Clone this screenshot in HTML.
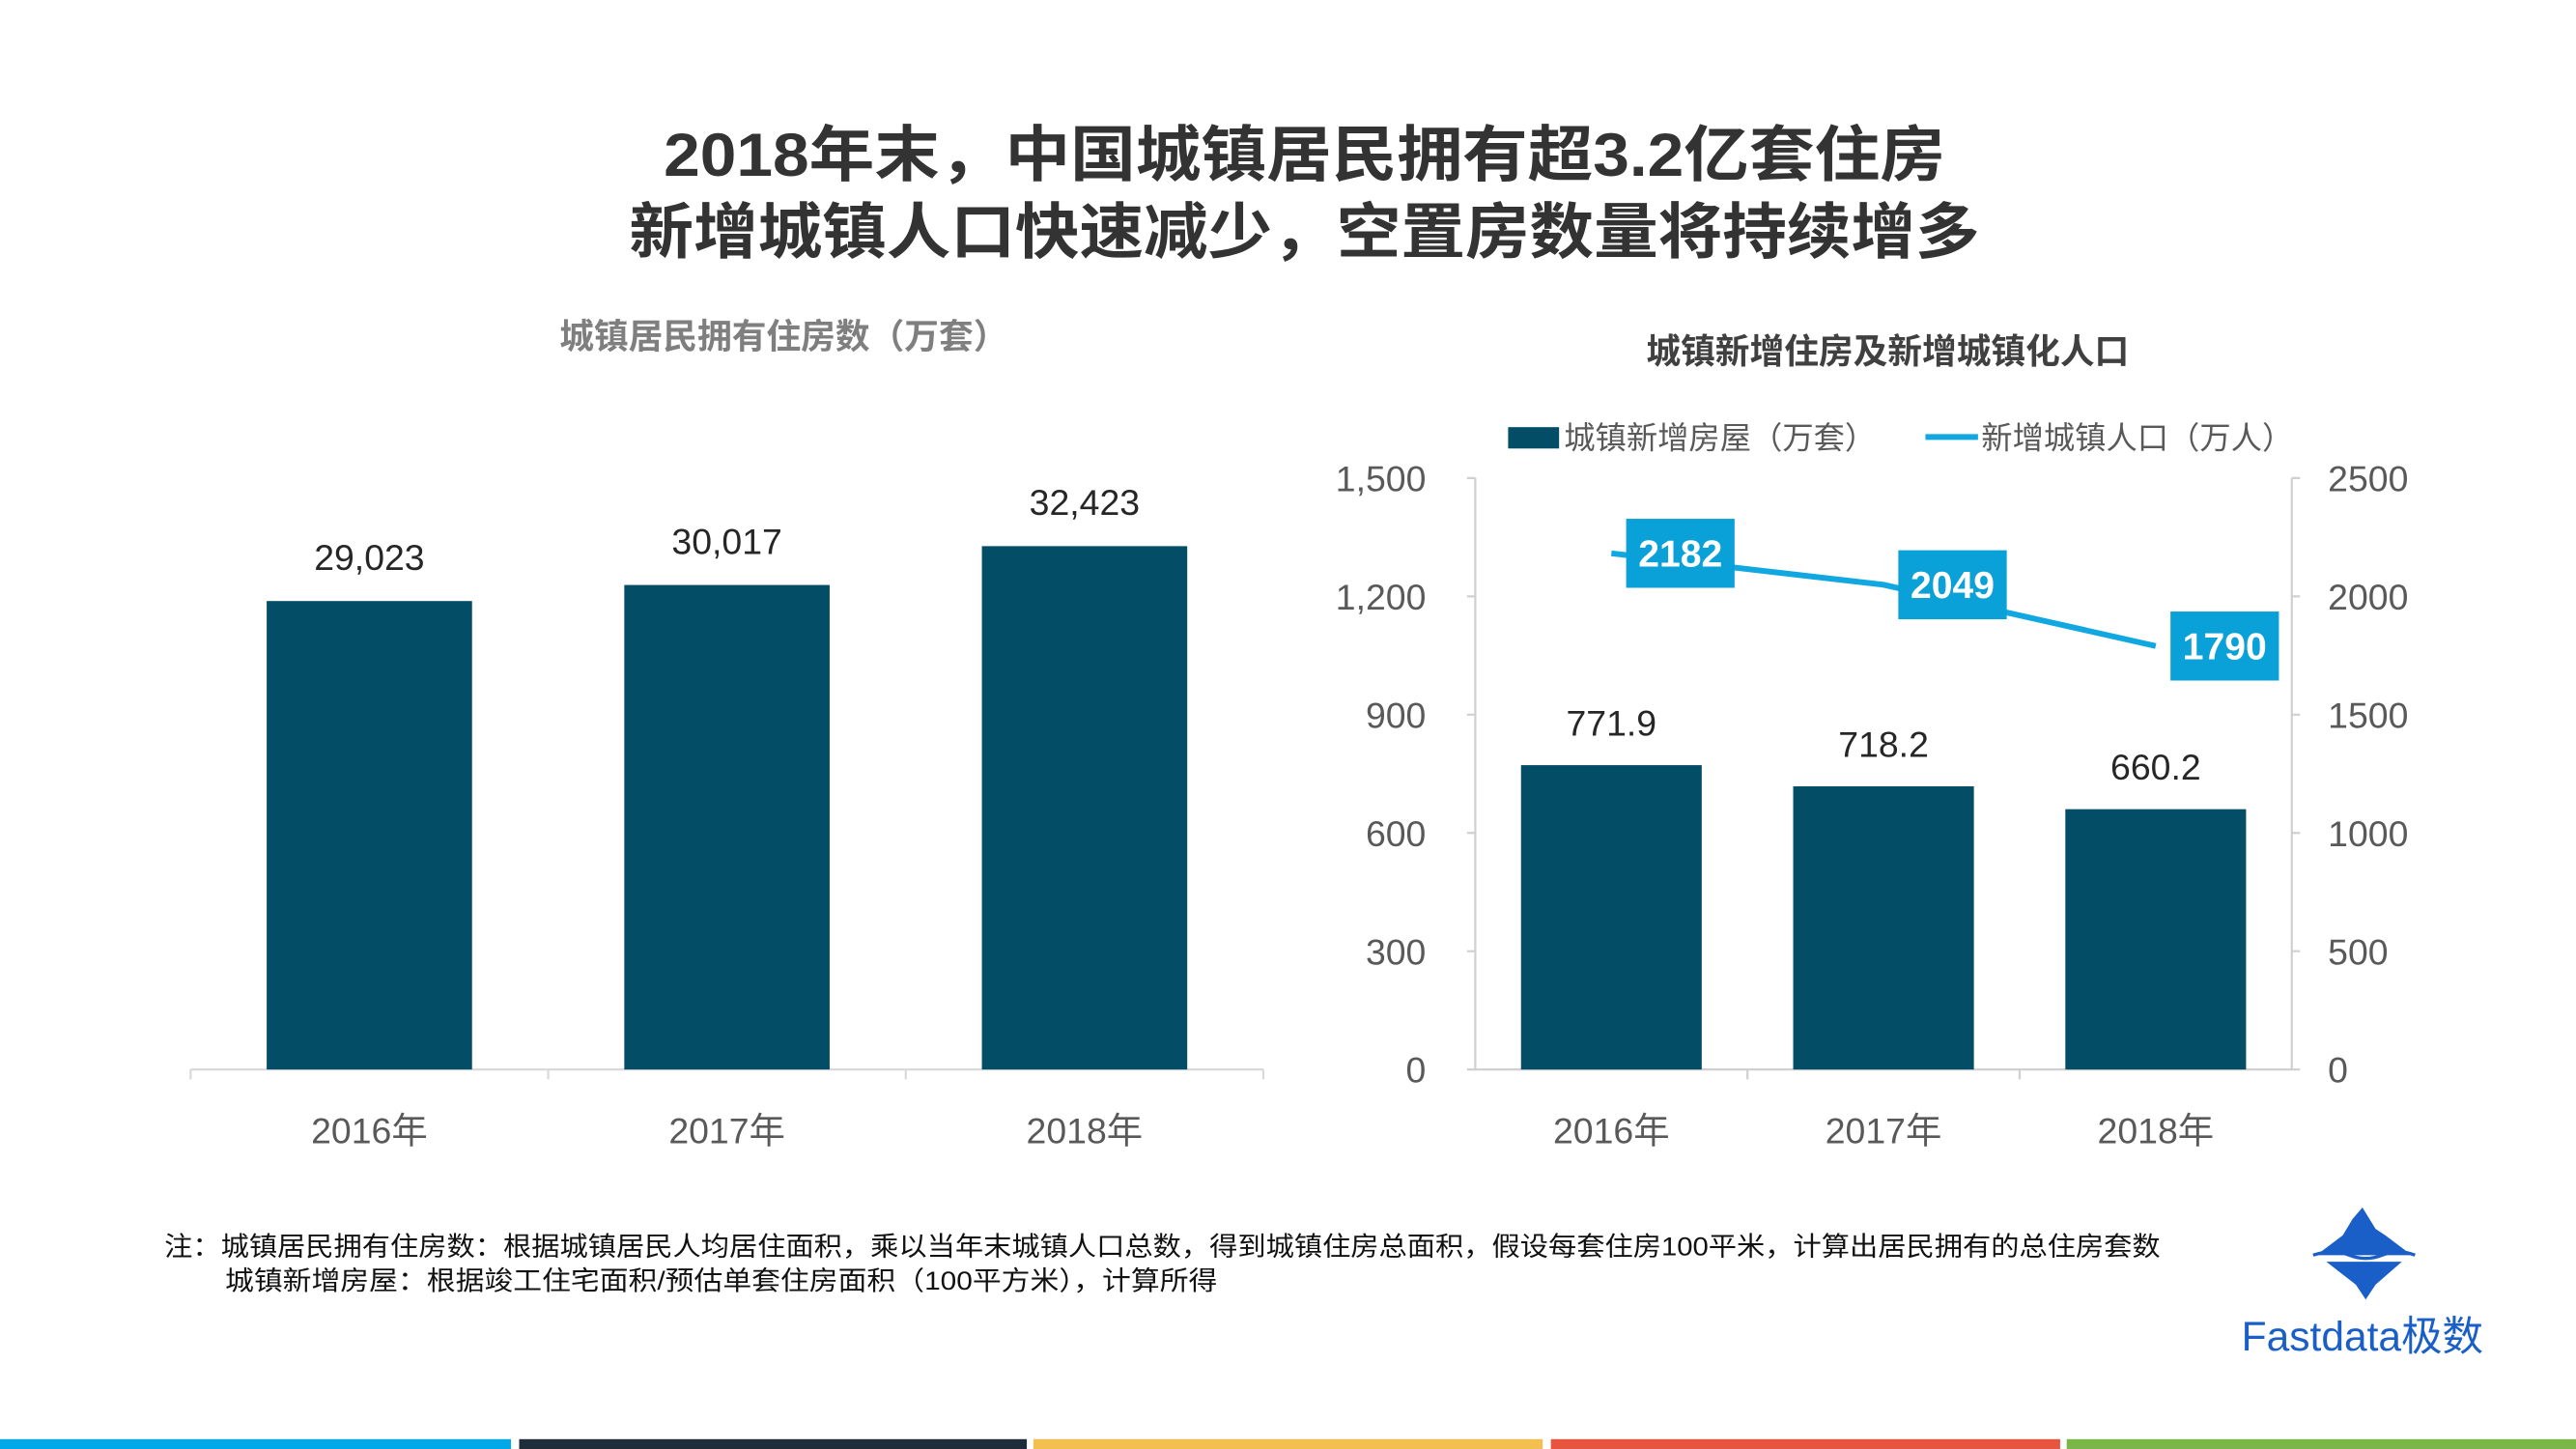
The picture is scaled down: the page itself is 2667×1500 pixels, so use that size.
<!DOCTYPE html>
<html><head><meta charset="utf-8"><style>
html,body{margin:0;padding:0;background:#fff;}
svg{display:block;font-family:"Liberation Sans","Noto Sans CJK SC",sans-serif;}
</style></head><body>
<svg id="root" width="2667" height="1500" viewBox="0 0 1568 882" preserveAspectRatio="none" xmlns="http://www.w3.org/2000/svg">
<g font-weight="bold" font-size="37" fill="#333" text-anchor="middle">
<text x="794" y="107" textLength="780" lengthAdjust="spacingAndGlyphs">2018年末，中国城镇居民拥有超3.2亿套住房</text>
<text x="794" y="154" textLength="822" lengthAdjust="spacingAndGlyphs">新增城镇人口快速减少，空置房数量将持续增多</text>
</g>
<text x="477" y="212" font-size="21" font-weight="bold" fill="#7f7f7f" text-anchor="middle">城镇居民拥有住房数（万套）</text>
<text x="1149" y="221" font-size="21" font-weight="bold" fill="#404040" text-anchor="middle">城镇新增住房及新增城镇化人口</text>
<g id="left"></g>
<g id="right"></g>
<g font-size="19" fill="#595959">
<rect x="918" y="260" width="31" height="13" fill="#034d66"/>
<text x="952" y="273">城镇新增房屋（万套）</text>
<line x1="1172" y1="266" x2="1204" y2="266" stroke="#11a7e0" stroke-width="3.5"/>
<text x="1206" y="273">新增城镇人口（万人）</text>
</g>
<g font-size="16" fill="#111">
<text x="100" y="764" textLength="1215" lengthAdjust="spacingAndGlyphs">注：城镇居民拥有住房数：根据城镇居民人均居住面积，乘以当年末城镇人口总数，得到城镇住房总面积，假设每套住房100平米，计算出居民拥有的总住房套数</text>
<text x="137" y="785" textLength="604" lengthAdjust="spacingAndGlyphs">城镇新增房屋：根据竣工住宅面积/预估单套住房面积（100平方米），计算所得</text>
</g>
<g>
<path d="M1438 735 L1446 748 L1452 752 L1468 764 L1410 764 L1426 752 L1432 742 Z" fill="#1a5fc7"/>
<path d="M1408 764 Q1420 760 1430 764 Q1440 768 1450 764 Q1460 760 1470 764" stroke="#1a5fc7" stroke-width="2" fill="none"/>
<path d="M1416 768 L1462 768 L1446 782 L1440 791 L1434 782 Z" fill="#1a5fc7"/>
<text x="1438" y="822" font-size="25" fill="#1a5fc7" text-anchor="middle">Fastdata极数</text>
</g>
<g>
<rect x="0" y="876" width="311" height="6" fill="#00a8e8"/>
<rect x="316" y="876" width="309" height="6" fill="#1f2d3a"/>
<rect x="629" y="876" width="310" height="6" fill="#f3c04f"/>
<rect x="944" y="876" width="310" height="6" fill="#e8553e"/>
<rect x="1258" y="876" width="310" height="6" fill="#7ab648"/>
</g>
</svg>
<script>
const leftCategories = ["2016年", "2017年", "2018年"];
const leftValues = [29023, 30017, 32423];
const leftValueLabels = ["29,023", "30,017", "32,423"];
const rightCategories = ["2016年", "2017年", "2018年"];
const housingValues = [771.9, 718.2, 660.2];
const populationValues = [2182, 2049, 1790];
const leftTicks = [0, 300, 600, 900, 1200, 1500];
const leftTickLabels = ["0", "300", "600", "900", "1,200", "1,500"];
const rightTicks = [0, 500, 1000, 1500, 2000, 2500];

const NS = "http://www.w3.org/2000/svg";
function mk(parent, tag, attrs, text) {
  const e = document.createElementNS(NS, tag);
  for (const k in attrs) e.setAttribute(k, attrs[k]);
  if (text !== undefined) e.textContent = text;
  parent.appendChild(e);
  return e;
}
// Left chart
const L = document.getElementById('left');
const lx0 = 116, lx1 = 769, lBase = 651, lMax = 40000, lH = 393;
const lBand = (lx1 - lx0) / leftCategories.length;
const lY = v => lBase - v / lMax * lH;
let ax = mk(L, 'path', {d: `M${lx0} ${lBase}H${lx1}` + [0,1,2,3].map(i => `M${lx0+i*lBand} ${lBase}v6`).join(''), stroke: '#d9d9d9', 'stroke-width': 1.3, fill: 'none'});


leftCategories.forEach((c, i) => {
  const cx = lx0 + lBand * (i + 0.5), w = 125;
  const r = mk(L, 'rect', {x: cx - w/2, y: lY(leftValues[i]), width: w, height: lBase - lY(leftValues[i]), fill: '#034d66'});
  
  
  const t = mk(L, 'text', {x: cx, y: lY(leftValues[i]) - 19, 'font-size': 22, fill: '#262626', 'text-anchor': 'middle'}, leftValueLabels[i]);
  
  
  const cl = mk(L, 'text', {x: cx, y: 696, 'font-size': 22, fill: '#595959', 'text-anchor': 'middle'}, c);
  
  
});
// Right chart
const R = document.getElementById('right');
const rx0 = 898, rx1 = 1395, rBase = 651, rTop = 291;
const yL = v => rBase - v / 1500 * (rBase - rTop);
const yR = v => rBase - v / 2500 * (rBase - rTop);
const rBand = (rx1 - rx0) / rightCategories.length;
const xC = i => rx0 + rBand * (i + 0.5);
let ra = mk(R, 'path', {d: `M${rx0} ${rTop}V${rBase}H${rx1}V${rTop}` + leftTicks.map(t => `M${rx0-5} ${yL(t)}h5`).join('') + rightTicks.map(t => `M${rx1} ${yR(t)}h5`).join('') + [1,2].map(i => `M${rx0+i*rBand} ${rBase}v6`).join(''), stroke: '#d0d0d0', 'stroke-width': 1.3, fill: 'none'});


leftTicks.forEach((t, i) => {
  const e = mk(R, 'text', {x: 868, y: yL(t) + 8, 'font-size': 22, fill: '#595959', 'text-anchor': 'end'}, leftTickLabels[i]);
  
  
});
rightTicks.forEach(t => {
  const e = mk(R, 'text', {x: 1417, y: yR(t) + 8, 'font-size': 22, fill: '#595959'}, String(t));
  
  
});
rightCategories.forEach((c, i) => {
  const w = 110, cx = xC(i);
  const r = mk(R, 'rect', {x: cx - w/2, y: yL(housingValues[i]), width: w, height: rBase - yL(housingValues[i]), fill: '#034d66'});
  
  
  const t = mk(R, 'text', {x: cx, y: yL(housingValues[i]) - 18, 'font-size': 22, fill: '#262626', 'text-anchor': 'middle'}, housingValues[i].toFixed(1));
  
  
  const cl = mk(R, 'text', {x: cx, y: 696, 'font-size': 22, fill: '#595959', 'text-anchor': 'middle'}, c);
  
  
});
const ln = mk(R, 'polyline', {points: populationValues.map((v, i) => `${xC(i)},${yR(v)}`).join(' '), fill: 'none', stroke: '#11a7e0', 'stroke-width': 3.5});


populationValues.forEach((v, i) => {
  const bx = xC(i) + 42, by = yR(v);
  const b = mk(R, 'rect', {x: bx - 33, y: by - 21, width: 66, height: 42, fill: '#0aa0d8'});
  
  
  const t = mk(R, 'text', {x: bx, y: by + 8, 'font-size': 23, 'font-weight': 'bold', fill: '#fff', 'text-anchor': 'middle'}, String(v));
  
  
});
</script>
</body></html>
